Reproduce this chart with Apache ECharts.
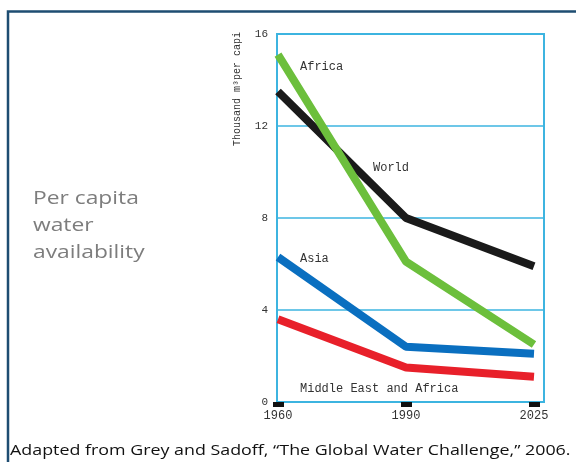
<!DOCTYPE html>
<html>
<head>
<meta charset="utf-8">
<script src="https://cdn.jsdelivr.net/npm/echarts@6/dist/echarts.min.js"></script>
<style>html,body{margin:0;padding:0;background:#fff}#c{width:576px;height:462px}</style>
</head>
<body>
<div id="c"></div>
<script>
var years = ['1960', '1990', '2025'];
var africa = [15.1, 6.1, 2.5];
var world = [13.5, 8.0, 5.9];
var asia = [6.3, 2.4, 2.1];
var mena = [3.6, 1.5, 1.1];
var yTicks = [0, 4, 8, 12, 16];
var seriesNames = ['Africa', 'World', 'Asia', 'Middle East and Africa'];
var yTitle = 'Thousand m\u00b3per capi';
var sideTitle = ['Per capita', 'water', 'availability'];
var caption = 'Adapted from Grey and Sadoff, \u201cThe Global Water Challenge,\u201d 2006.';

var chart = echarts.init(document.getElementById('c'), null, {renderer: 'canvas'});
var mono = 'Liberation Mono';
var gridColor = '#3db4e0';
var option = {
  backgroundColor: '#fff',
  animation: false,
  grid: [
    {left: 277, right: 32, top: 34, bottom: 60, show: true, borderColor: gridColor, borderWidth: 2, backgroundColor: 'transparent'},
    {left: 278, right: 42, top: 34, bottom: 60}
  ],
  xAxis: [
    {gridIndex: 0, type: 'value', show: false, min: 0, max: 1},
    {gridIndex: 1, type: 'category', data: years, boundaryGap: false,
     axisLine: {show: false},
     axisTick: {show: true, alignWithLabel: true, length: 5, lineStyle: {color: '#111', width: 11}},
     axisLabel: {fontFamily: mono, fontSize: 12, color: '#333', margin: 8}}
  ],
  yAxis: [
    {gridIndex: 0, type: 'value', min: 0, max: 16, interval: 4,
     axisLine: {show: false}, axisTick: {show: false},
     splitLine: {show: true, lineStyle: {color: gridColor, width: 1.5}},
     axisLabel: {fontFamily: mono, fontSize: 11, color: '#333', margin: 9,
       formatter: function (v) { return yTicks.indexOf(v) >= 0 ? String(v) : ''; }}},
    {gridIndex: 1, type: 'value', min: 0, max: 16, interval: 4, show: false, splitLine: {show: false}}
  ],
  series: [
    {name: seriesNames[3], type: 'line', xAxisIndex: 1, yAxisIndex: 1, data: mena, symbol: 'none', lineStyle: {color: '#e8202a', width: 8}},
    {name: seriesNames[2], type: 'line', xAxisIndex: 1, yAxisIndex: 1, data: asia, symbol: 'none', lineStyle: {color: '#0a6fc0', width: 8}},
    {name: seriesNames[1], type: 'line', xAxisIndex: 1, yAxisIndex: 1, data: world, symbol: 'none', lineStyle: {color: '#1a1a1a', width: 8}},
    {name: seriesNames[0], type: 'line', xAxisIndex: 1, yAxisIndex: 1, data: africa, symbol: 'none', lineStyle: {color: '#6cbf3c', width: 8}}
  ],
  graphic: [
    {type: 'polyline', shape: {points: [[8, 470], [8, 11.5], [580, 11.5]]}, style: {stroke: '#1e4d72', lineWidth: 2.5, fill: null}},
    {type: 'text', rotation: Math.PI / 2, x: 237, y: 146, style: {text: yTitle, font: '10px "Liberation Mono"', fill: '#333', textAlign: 'left', textVerticalAlign: 'middle'}},
    {type: 'text', x: 300, y: 67, style: {text: seriesNames[0], font: '12px "Liberation Mono"', fill: '#333', textVerticalAlign: 'middle'}},
    {type: 'text', x: 373, y: 168, style: {text: seriesNames[1], font: '12px "Liberation Mono"', fill: '#333', textVerticalAlign: 'middle'}},
    {type: 'text', x: 300, y: 259, style: {text: seriesNames[2], font: '12px "Liberation Mono"', fill: '#333', textVerticalAlign: 'middle'}},
    {type: 'text', x: 300, y: 389, style: {text: seriesNames[3], font: '12px "Liberation Mono"', fill: '#333', textVerticalAlign: 'middle'}},
    {type: 'text', x: 33, y: 199, scaleX: 1.2, style: {text: sideTitle[0], font: '19px "Open Sans"', fill: '#7d7d7d', textVerticalAlign: 'middle'}},
    {type: 'text', x: 33, y: 226, scaleX: 1.2, style: {text: sideTitle[1], font: '19px "Open Sans"', fill: '#7d7d7d', textVerticalAlign: 'middle'}},
    {type: 'text', x: 33, y: 253, scaleX: 1.2, style: {text: sideTitle[2], font: '19px "Open Sans"', fill: '#7d7d7d', textVerticalAlign: 'middle'}},
    {type: 'text', x: 10, y: 451, scaleX: 1.19, style: {text: caption, font: '15px "Open Sans"', fill: '#111', textVerticalAlign: 'middle'}}
  ]
};
chart.setOption(option);
</script>
</body>
</html>
